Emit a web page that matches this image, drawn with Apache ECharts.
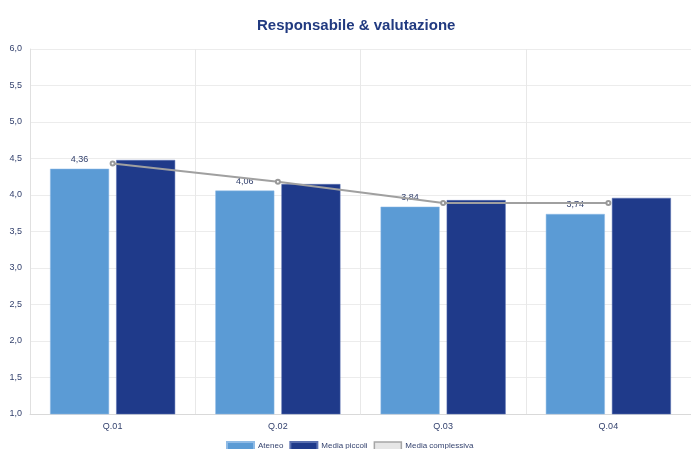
<!DOCTYPE html>
<html><head><meta charset="utf-8">
<script src="https://cdn.jsdelivr.net/npm/echarts@6/dist/echarts.min.js"></script>
<style>html,body{margin:0;padding:0;background:#fff}#c{width:691px;height:449px}</style>
</head><body><div id="c"></div>
<script>
const categories = ['Q.01', 'Q.02', 'Q.03', 'Q.04'];
const ateneo = [4.36, 4.06, 3.84, 3.74];
const mediaPiccoli = [4.48, 4.15, 3.93, 3.96];
const mediaComplessiva = [4.43, 4.18, 3.89, 3.89];
const yTicks = [1.0, 1.5, 2.0, 2.5, 3.0, 3.5, 4.0, 4.5, 5.0, 5.5, 6.0];

const fmt = v => Number(v).toFixed(2).replace('.', ',');
const chart = echarts.init(document.getElementById('c'));
chart.setOption({
  animation: false,
  textStyle: { fontFamily: 'Liberation Sans, Arial, sans-serif' },
  title: {
    text: 'Responsabile & valutazione', left: 252, top: 13,
    textStyle: { fontSize: 15, fontWeight: 'bold', color: '#213a80', fontFamily: 'Liberation Sans, Arial, sans-serif' }
  },
  legend: {
    top: 436, left: 221, itemWidth: 27, itemHeight: 8, itemGap: 6,
    textStyle: { fontSize: 8, color: '#34426e', padding: [0, 0, 0, -1] },
    data: [
      { name: 'Ateneo', icon: 'rect' },
      { name: 'Media piccoli', icon: 'rect' },
      { name: 'Media complessiva', icon: 'rect', itemStyle: { color: '#e6e6e6', borderColor: '#a6a6a6', borderWidth: 1.5 } }
    ]
  },
  grid: { left: 30, right: -3, top: 49, bottom: 35 },
  xAxis: {
    type: 'category', data: categories,
    axisLine: { lineStyle: { color: '#d9d9d9' } },
    axisTick: { length: 7, lineStyle: { color: '#e6e6e6' } },
    splitLine: { show: true, lineStyle: { color: '#e8e8e8' } },
    axisLabel: { fontSize: 9, color: '#34426e', margin: 8 }
  },
  yAxis: {
    type: 'value', min: yTicks[0], max: yTicks[yTicks.length - 1], interval: 0.5,
    axisLine: { show: true, lineStyle: { color: '#e0e0e0' } },
    axisTick: { show: false },
    splitLine: { lineStyle: { color: '#ececec' } },
    axisLabel: { fontSize: 9, color: '#34426e', margin: 8, formatter: v => v.toFixed(1).replace('.', ',') }
  },
  series: [
    {
      name: 'Ateneo', type: 'bar', data: ateneo, barWidth: 59, barGap: '12%',
      itemStyle: { color: '#5b9bd5', borderColor: '#8fbbe6', borderWidth: 0.5 },
      label: { show: true, position: 'top', distance: 5, fontSize: 9, color: '#34426e', formatter: p => fmt(p.value) }
    },
    {
      name: 'Media piccoli', type: 'bar', data: mediaPiccoli, barWidth: 59,
      itemStyle: { color: '#1f3a8a', borderColor: '#5a70b0', borderWidth: 0.5 }
    },
    {
      name: 'Media complessiva', type: 'line', data: mediaComplessiva,
      symbol: 'emptyCircle', symbolSize: 4, z: 5,
      lineStyle: { color: '#a0a0a0', width: 2 },
      itemStyle: { color: '#999999', borderColor: '#999999', borderWidth: 1 }
    }
  ]
});
</script></body></html>
